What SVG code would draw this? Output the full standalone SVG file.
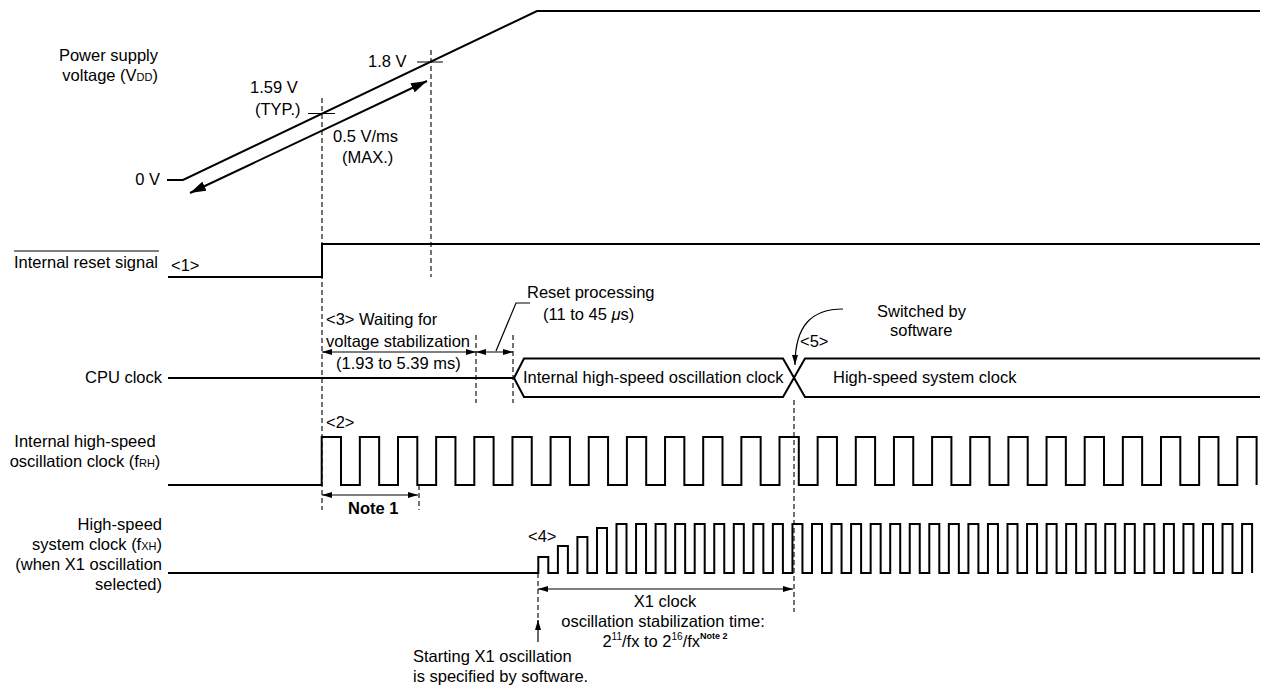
<svg xmlns="http://www.w3.org/2000/svg" width="1264" height="686" viewBox="0 0 1264 686">
<defs>
<style>
text{font-family:"Liberation Sans",Arial,sans-serif;font-size:16.5px;fill:#000}
.sig{fill:none;stroke:#000;stroke-width:2;stroke-linejoin:miter}
.thin{fill:none;stroke:#000;stroke-width:1.2}
.dash{fill:none;stroke:#000;stroke-width:1.1;stroke-dasharray:5,3}
.sub{font-size:11px}
.b{font-weight:bold}
</style>
<marker id="ah" viewBox="0 0 10 6" refX="10" refY="3" markerWidth="10" markerHeight="6" markerUnits="userSpaceOnUse" orient="auto-start-reverse"><path d="M0,0L10,3L0,6z" fill="#000"/></marker>
<marker id="big" viewBox="0 0 16 10" refX="16" refY="5" markerWidth="16" markerHeight="10" markerUnits="userSpaceOnUse" orient="auto-start-reverse"><path d="M0,0L16,5L0,10z" fill="#000"/></marker>
</defs>

<g id="vdd">
<path class="sig" d="M167,180H183L537,11H1260"/>
<path class="thin" d="M308,113.5H335M417,62H443"/>
<text text-anchor="end" x="158" y="61">Power supply</text>
<text text-anchor="end" x="158" y="81">voltage (V<tspan class="sub">DD</tspan>)</text>
<text text-anchor="end" x="160" y="185">0 V</text>
<text x="250" y="93">1.59 V</text>
<text x="255" y="115">(TYP.)</text>
<text x="368" y="67">1.8 V</text>
<text x="333" y="142">0.5 V/ms</text>
<text x="342" y="163">(MAX.)</text>
</g>

<g id="reset">
<path class="sig" d="M168,277H322V244H1260"/>
<line x1="14" y1="251" x2="159" y2="251" stroke="#000" stroke-width="1"/>
<text x="14" y="268">Internal reset signal</text>
<text x="171" y="271">&lt;1&gt;</text>
</g>

<g id="cpu">
<path class="sig" d="M168,378H514L524,358.5H783L805,397H1260M514,378L524,397H783L805,358.5H1260"/>
<text text-anchor="end" x="162" y="383">CPU clock</text>
<text x="523" y="383">Internal high-speed oscillation clock</text>
<text x="833" y="383">High-speed system clock</text>
<text x="800" y="347">&lt;5&gt;</text>
<text x="877" y="317">Switched by</text>
<text x="890" y="336">software</text>
<text x="326" y="325">&lt;3&gt; Waiting for</text>
<text x="326" y="347">voltage stabilization</text>
<text x="336" y="369">(1.93 to 5.39 ms)</text>
<text x="527" y="298">Reset processing</text>
<text x="543" y="320">(11 to 45 <tspan font-style="italic">μ</tspan>s)</text>
</g>

<g id="frh">
<path class="sig" d="M168,485H321.7V437h19.3V485h18.85V437h19.3V485h18.85V437h19.3V485h18.85V437h19.3V485h18.85V437h19.3V485h18.85V437h19.3V485h18.85V437h19.3V485h18.85V437h19.3V485h18.85V437h19.3V485h18.85V437h19.3V485h18.85V437h19.3V485h18.85V437h19.3V485h18.85V437h19.3V485h18.85V437h19.3V485h18.85V437h19.3V485h18.85V437h19.3V485h18.85V437h19.3V485h18.85V437h19.3V485h18.85V437h19.3V485h18.85V437h19.3V485h18.85V437h19.3V485h18.85V437h19.3V485h18.85V437h19.3V485h18.85V437h19.3V485h18.85V437h19.3V485"/>
<text text-anchor="middle" x="85" y="447">Internal high-speed</text>
<text text-anchor="middle" x="85" y="467">oscillation clock (f<tspan class="sub">RH</tspan>)</text>
<text x="326" y="428">&lt;2&gt;</text>
<text class="b" x="348" y="514">Note 1</text>
</g>

<g id="fxh">
<path class="sig" stroke-width="1.8" d="M168,573H538.3V557H548.3V573H557.9V546H567.9V573H577.4V537H587.4V573H597V528H607V573H616.5V524h10V573h9.55V524h10V573h9.55V524h10V573h9.55V524h10V573h9.55V524h10V573h9.55V524h10V573h9.55V524h10V573h9.55V524h10V573h9.55V524h10V573h9.55V524h10V573h9.55V524h10V573h9.55V524h10V573h9.55V524h10V573h9.55V524h10V573h9.55V524h10V573h9.55V524h10V573h9.55V524h10V573h9.55V524h10V573h9.55V524h10V573h9.55V524h10V573h9.55V524h10V573h9.55V524h10V573h9.55V524h10V573h9.55V524h10V573h9.55V524h10V573h9.55V524h10V573h9.55V524h10V573h9.55V524h10V573h9.55V524h10V573h9.55V524h10V573h9.55V524h10V573h9.55V524h10V573h9.55V524h10V573"/>
<text text-anchor="end" x="162" y="530">High-speed</text>
<text text-anchor="end" x="162" y="550">system clock (f<tspan class="sub">XH</tspan>)</text>
<text text-anchor="end" x="162" y="570">(when X1 oscillation</text>
<text text-anchor="end" x="162" y="590">selected)</text>
<text x="528" y="542">&lt;4&gt;</text>
<text text-anchor="middle" x="665" y="607">X1 clock</text>
<text text-anchor="middle" x="663" y="627">oscillation stabilization time:</text>
<text text-anchor="middle" x="665" y="647">2<tspan font-size="10" dy="-7">11</tspan><tspan dy="7">/fx to 2</tspan><tspan font-size="10" dy="-7">16</tspan><tspan dy="7">/fx</tspan><tspan font-size="9" font-weight="bold" dy="-8">Note 2</tspan></text>
<text x="413" y="662">Starting X1 oscillation</text>
<text x="413" y="682">is specified by software.</text>
</g>

<g id="connectors">
<line class="dash" x1="322" y1="98" x2="322" y2="510"/>
<line class="dash" x1="431" y1="50" x2="431" y2="277"/>
<line class="dash" x1="476" y1="335" x2="476" y2="403"/>
<line class="dash" x1="513" y1="335" x2="513" y2="403"/>
<line class="dash" x1="419" y1="485" x2="419" y2="510"/>
<line class="dash" x1="794" y1="400" x2="794" y2="612"/>
<line class="dash" x1="538" y1="573" x2="538" y2="622"/>
<line x1="190" y1="193" x2="427" y2="81" stroke="#000" stroke-width="2" marker-start="url(#big)" marker-end="url(#big)"/>
<line class="thin" x1="322" y1="352" x2="476" y2="352" marker-start="url(#ah)" marker-end="url(#ah)"/>
<line class="thin" x1="476" y1="352" x2="513" y2="352" marker-start="url(#ah)" marker-end="url(#ah)"/>
<line class="thin" x1="322" y1="495" x2="418" y2="495" marker-start="url(#ah)" marker-end="url(#ah)"/>
<line class="thin" x1="538" y1="589" x2="793" y2="589" marker-start="url(#ah)" marker-end="url(#ah)"/>
<line class="thin" x1="538" y1="642" x2="538" y2="620" marker-end="url(#ah)"/>
<path class="thin" d="M496,351L516,303H530"/>
<path class="thin" d="M843,309C812,309 795,325 795,365" marker-end="url(#ah)"/>
</g>
</svg>
